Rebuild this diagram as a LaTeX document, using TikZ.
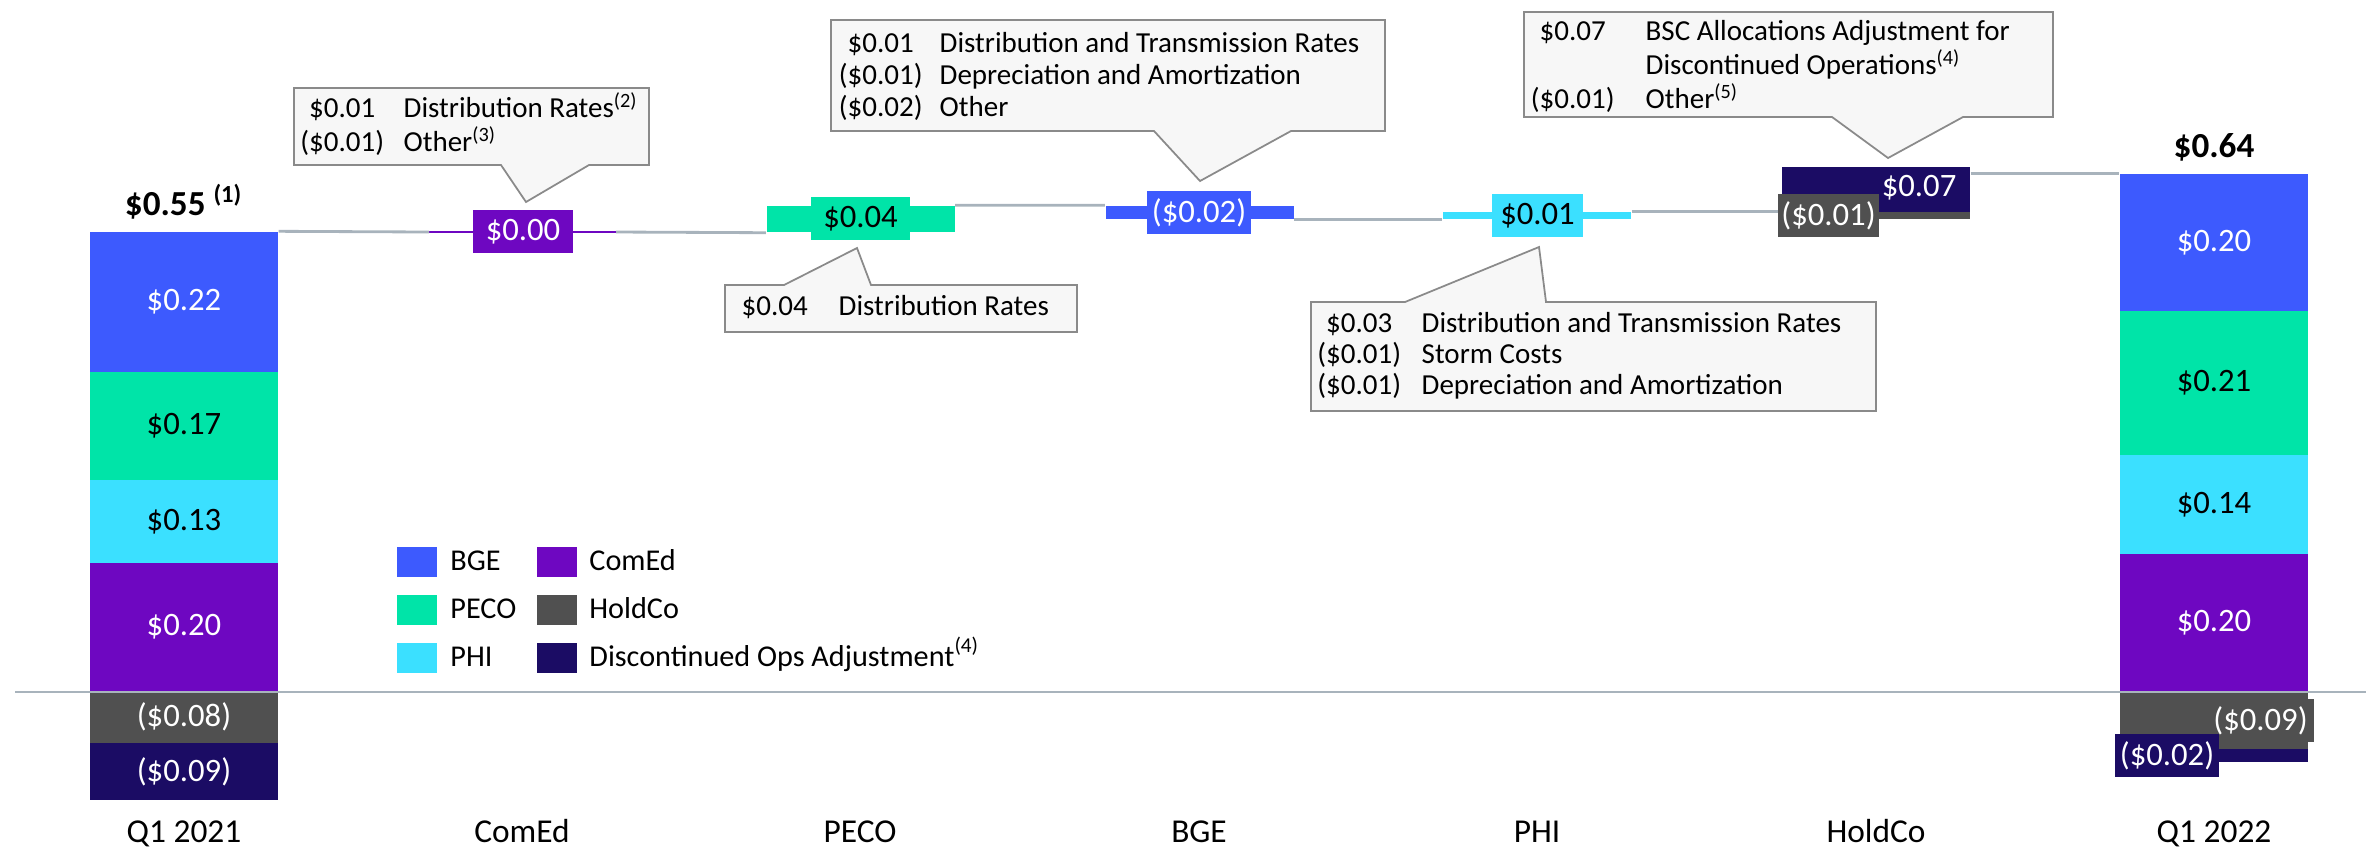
\documentclass[tikz,border=0pt]{standalone}
\usepackage{fontspec}
\setmainfont{Carlito}
\usepackage{array}
\usetikzlibrary{positioning}

\definecolor{bgeblue}{RGB}{61,90,254}
\definecolor{pecogreen}{RGB}{0,228,168}
\definecolor{phicyan}{RGB}{59,224,255}
\definecolor{comedpurple}{RGB}{110,7,193}
\definecolor{holdgray}{RGB}{80,80,80}
\definecolor{discnavy}{RGB}{27,12,100}
\definecolor{linkgray}{RGB}{168,179,188}
\definecolor{boxfill}{RGB}{247,247,247}
\definecolor{boxline}{RGB}{138,138,138}

% amount column centred, description column left
\newcommand{\amts}[2]{\begin{tabular}[t]{@{}>{\centering\arraybackslash}p{9mm}@{\hspace{#1}}l@{}}#2\end{tabular}}

\begin{document}
\begin{tikzpicture}[x=0.1mm,y=-0.1mm,
  seg/.style={fill=#1, inner sep=0pt, minimum width=18.8mm, font=\fontsize{9.3}{11}\selectfont},
  tag/.style={fill=#1, inner sep=0pt, minimum height=4.3mm, font=\fontsize{9.3}{11}\selectfont},
  link/.style={draw=linkgray, line width=0.8pt},
  callout/.style={fill=boxfill, draw=boxline, line width=0.5pt},
  note/.style={anchor=base west, inner sep=0pt, font=\fontsize{8.25}{9.2}\selectfont},
  key/.style={fill=#1, minimum width=4mm, minimum height=3mm, inner sep=0pt},
  keytext/.style={inner sep=0pt, anchor=mid west, font=\fontsize{8.6}{10}\selectfont},
  cat/.style={anchor=base, inner sep=0pt, font=\fontsize{9.5}{11}\selectfont},
  total/.style={anchor=base, inner sep=0pt, font=\fontsize{10}{12}\selectfont}]
\useasboundingbox (0,0) rectangle (2366,847);

% Q1 2021
\node[seg=bgeblue, minimum height=14mm, text=white] (q21bge) at (184,302) {\$0.22};
\node[seg=pecogreen, minimum height=10.8mm] (q21peco) at (184,426) {\$0.17};
\node[seg=phicyan, minimum height=8.3mm] (q21phi) at (184,521.5) {\$0.13};
\node[seg=comedpurple, minimum height=12.8mm, text=white] (q21comed) at (184,627) {\$0.20};
\node[seg=holdgray, minimum height=5.2mm, text=white] (q21hold) at (184,717) {(\$0.08)};
\node[seg=discnavy, minimum height=5.7mm, text=white] (q21disc) at (184,771.5) {(\$0.09)};

% steps
\coordinate (comedL) at (429,232);
\coordinate (comedR) at (616,232);
\draw[comedpurple, line width=0.8pt] (comedL) -- (comedR);
\node[seg=pecogreen, minimum height=2.6mm] (peco) at (860.5,219) {};
\node[seg=bgeblue, minimum height=1.3mm] (bge) at (1199.5,212.5) {};
\node[seg=phicyan, minimum height=0.7mm] (phi) at (1537,215.5) {};
\node[seg=discnavy, minimum height=4.5mm] (holddisc) at (1876,189.5) {};
\node[seg=holdgray, minimum height=0.7mm] (hold) at (1876,215.5) {};

% Q1 2022
\node[seg=bgeblue, minimum height=13.7mm, text=white] (q22bge) at (2214,242.5) {\$0.20};
\node[seg=pecogreen, minimum height=14.4mm] (q22peco) at (2214,383) {\$0.21};
\node[seg=phicyan, minimum height=9.9mm] (q22phi) at (2214,504.5) {\$0.14};
\node[seg=comedpurple, minimum height=13.7mm, text=white] (q22comed) at (2214,622.5) {\$0.20};
\node[seg=holdgray, minimum height=5.8mm] (q22hold) at (2214,720) {};
\node[seg=discnavy, minimum height=1.3mm] (q22disc) at (2214,755.5) {};

% connectors
\draw[link] (q21bge.north east) -- (comedL);
\draw[link] (comedR) -- (peco.south west);
\draw[link] (peco.north east) -- (bge.north west);
\draw[link] (bge.south east) -- (phi.south west);
\draw[link] (phi.north east) -- (hold.north west);
\draw[link] (holddisc.east |- q22bge.north) -- (q22bge.north west);
\coordinate (zeroL) at (15,692);
\coordinate (zeroR) at (2366,692);
\draw[link] (zeroL) -- (zeroR);

% value tags
\node[tag=comedpurple, minimum width=10mm, text=white] (tcomed) at (523,231.5) {\$0.00};
\node[tag=pecogreen, minimum width=9.9mm] (tpeco) at (860.5,218.5) {\$0.04};
\node[tag=bgeblue, minimum width=10.4mm, text=white] (tbge) at (1199,212.5) {(\$0.02)};
\node[tag=phicyan, minimum width=9.1mm] (tphi) at (1537.5,215.5) {\$0.01};
\node[tag=discnavy, minimum height=3.6mm, text=white, anchor=east] (tdisc) at (1957,188) {\$0.07};
\node[tag=holdgray, minimum width=10.1mm, text=white] (thold) at (1828.5,215.5) {(\$0.01)};
\node[tag=holdgray, minimum width=10.7mm, text=white] (tq22hold) at (2260.5,720.5) {(\$0.09)};
\node[tag=discnavy, minimum width=10.4mm, text=white] (tq22disc) at (2167,755.5) {(\$0.02)};

% totals
\node[total] (tot21) at (184,215) {\textbf{\$0.55} \textsuperscript{\textbf{(1)}}};
\node[total] (tot22) at (2214,157) {\textbf{\$0.64}};

% callouts
\draw[callout] (294,88) -- (649,88) -- (649,165) -- (589,165) -- (526,202) -- (501,165) -- (294,165) -- cycle;
\node[note, font=\fontsize{8.25}{9.45}\selectfont] (ncomed) at (296.5,117)
  {\amts{1.65mm}{\$0.01 & Distribution Rates\textsuperscript{(2)}\\ (\$0.01) & Other\textsuperscript{(3)}}};
\draw[callout] (725,285) -- (784,285) -- (857,248) -- (871,285) -- (1077,285) -- (1077,332) -- (725,332) -- cycle;
\node[note] (npeco) at (729,315) {\amts{1.9mm}{\$0.04 & Distribution Rates}};
\draw[callout] (831,20) -- (1385,20) -- (1385,131) -- (1291,131) -- (1200,181) -- (1154,131) -- (831,131) -- cycle;
\node[note] (nbge) at (835,52)
  {\amts{1.4mm}{\$0.01 & Distribution and Transmission Rates\\ (\$0.01) & Depreciation and Amortization\\ (\$0.02) & Other}};
\draw[callout] (1311,302) -- (1405,302) -- (1539,247) -- (1546,302) -- (1876,302) -- (1876,411) -- (1311,411) -- cycle;
\node[note, font=\fontsize{8.25}{8.96}\selectfont] (nphi) at (1313.5,332)
  {\amts{1.75mm}{\$0.03 & Distribution and Transmission Rates\\ (\$0.01) & Storm Costs\\ (\$0.01) & Depreciation and Amortization}};
\draw[callout] (1524,12) -- (2053,12) -- (2053,117) -- (1963,117) -- (1888,158) -- (1832,117) -- (1524,117) -- cycle;
\node[note, font=\fontsize{8.25}{8.96}\selectfont] (nhold) at (1527,40)
  {\amts{2.8mm}{\$0.07 & BSC Allocations Adjustment for\\ & Discontinued Operations\textsuperscript{(4)}\\ (\$0.01) & Other\textsuperscript{(5)}}};

% legend
\node[key=bgeblue] (kbge) at (417,562) {};
\node[key=pecogreen] (kpeco) at (417,610) {};
\node[key=phicyan] (kphi) at (417,658) {};
\node[key=comedpurple] (kcomed) at (557,562) {};
\node[key=holdgray] (khold) at (557,610) {};
\node[key=discnavy] (kdisc) at (557,658) {};
\node[keytext, right=1.2mm of kbge, anchor=mid west] (lbge) {BGE};
\node[keytext, right=1.2mm of kpeco, anchor=mid west] (lpeco) {PECO};
\node[keytext, right=1.2mm of kphi, anchor=mid west] (lphi) {PHI};
\node[keytext, right=1.1mm of kcomed, anchor=mid west] (lcomed) {ComEd};
\node[keytext, right=1.1mm of khold, anchor=mid west] (lhold) {HoldCo};
\node[keytext, right=1.1mm of kdisc, anchor=mid west] (ldisc) {Discontinued Ops Adjustment\textsuperscript{(4)}};

% categories
\node[cat] (cq21) at (184,842) {Q1 2021};
\node[cat] (ccomed) at (522,842) {ComEd};
\node[cat] (cpeco) at (860,842) {PECO};
\node[cat] (cbge) at (1199,842) {BGE};
\node[cat] (cphi) at (1537,842) {PHI};
\node[cat] (chold) at (1876,842) {HoldCo};
\node[cat] (cq22) at (2214,842) {Q1 2022};
\end{tikzpicture}
\end{document}
